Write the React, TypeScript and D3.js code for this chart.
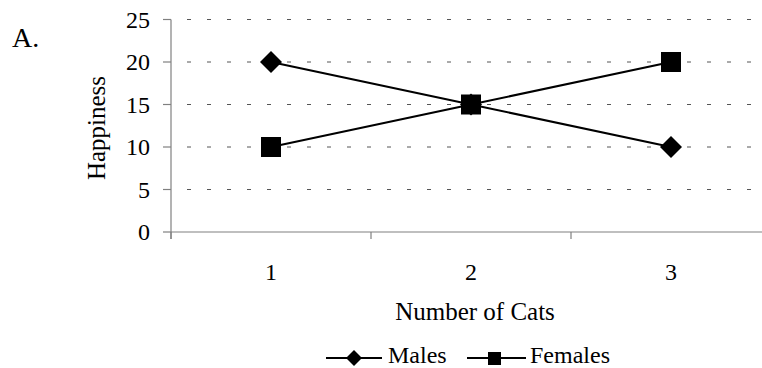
import React from "react";
import * as d3 from "d3";

const categories = ["1", "2", "3"];
const males = [20, 15, 10];
const females = [10, 15, 20];
const yTicks = [0, 5, 10, 15, 20, 25];
const seriesNames = ["Males", "Females"];

const FONT = '"Liberation Serif", "Times New Roman", serif';

export default function App() {
  const W = 762, H = 368;
  const x = d3.scaleBand<string>().domain(categories).range([171, 771]);
  const y = d3.scaleLinear().domain([0, 25]).range([232, 19.5]);
  const cx = (c: string) => (x(c) as number) + x.bandwidth() / 2;

  const line = d3.line<number>()
    .x((_, i) => cx(categories[i]))
    .y((d) => y(d));

  const diamond = (px: number, py: number, r: number) =>
    `M${px},${py - r}L${px + r},${py}L${px},${py + r}L${px - r},${py}Z`;

  const xTickPos = [...categories.map((c) => x(c) as number), 771];

  return (
    <svg width={W} height={H} style={{ position: "absolute", left: 0, top: 0, background: "#fff" }}
      fontFamily={FONT}>
      {yTicks.filter((t) => t > 0).map((t) => (
        <line key={"g" + t} x1={171} x2={W} y1={y(t)} y2={y(t)}
          stroke="#555" strokeWidth={1} strokeDasharray="4,16" strokeDashoffset={-16} />
      ))}
      <line x1={171} x2={171} y1={y(25)} y2={y(0) + 7} stroke="#808080" strokeWidth={1.2} />
      <line x1={171} x2={W} y1={y(0)} y2={y(0)} stroke="#808080" strokeWidth={1.2} />
      {yTicks.map((t) => (
        <line key={"yt" + t} x1={163} x2={171} y1={y(t)} y2={y(t)} stroke="#808080" strokeWidth={1.2} />
      ))}
      {xTickPos.map((p, i) => (
        <line key={"xt" + i} x1={p} x2={p} y1={y(0)} y2={y(0) + 7} stroke="#808080" strokeWidth={1.2} />
      ))}
      {yTicks.map((t) => (
        <text key={"yl" + t} x={150} y={y(t)} dy="0.35em" textAnchor="end" fontSize={24} fill="#000">
          {t}
        </text>
      ))}
      {categories.map((c) => (
        <text key={"xl" + c} x={cx(c)} y={280} textAnchor="middle" fontSize={24} fill="#000">
          {c}
        </text>
      ))}
      <text x={475} y={320} textAnchor="middle" fontSize={25} fill="#000">Number of Cats</text>
      <text transform={`translate(105,128) rotate(-90)`} textAnchor="middle" fontSize={25} fill="#000">
        Happiness
      </text>
      <text x={12} y={47} fontSize={28} fill="#000">A.</text>

      <path d={line(males) || ""} fill="none" stroke="#000" strokeWidth={2} />
      <path d={line(females) || ""} fill="none" stroke="#000" strokeWidth={2} />
      {males.map((v, i) => (
        <path key={"m" + i} d={diamond(cx(categories[i]), y(v), 11)} fill="#000" />
      ))}
      {females.map((v, i) => (
        <rect key={"f" + i} x={cx(categories[i]) - 10} y={y(v) - 10} width={20} height={20} fill="#000" />
      ))}

      <g>
        <line x1={326} x2={382} y1={358} y2={358} stroke="#000" strokeWidth={2} />
        <path d={diamond(354, 358, 8)} fill="#000" />
        <text x={388} y={363} fontSize={24} fill="#000">{seriesNames[0]}</text>
        <line x1={467} x2={526} y1={358} y2={358} stroke="#000" strokeWidth={2} />
        <rect x={488} y={352} width={13} height={13} fill="#000" />
        <text x={530} y={363} fontSize={24} fill="#000">{seriesNames[1]}</text>
      </g>
    </svg>
  );
}
